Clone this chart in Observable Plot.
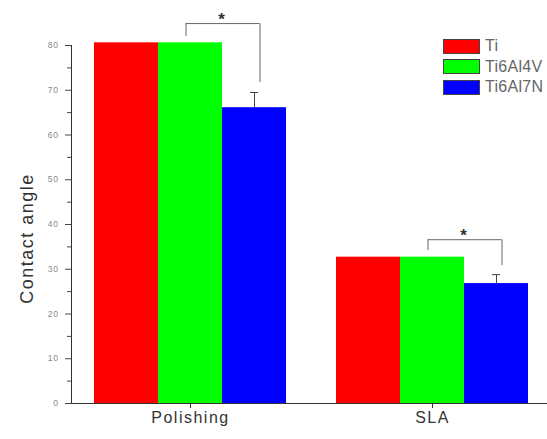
<!DOCTYPE html>
<html><head><meta charset="utf-8">
<script src="https://cdn.jsdelivr.net/npm/d3@7"></script>
<script src="https://cdn.jsdelivr.net/npm/@observablehq/plot@0.6"></script>
<style>
body{margin:0;background:#fff;font-family:"Liberation Sans",Arial,sans-serif}
#wrap{position:relative;width:547px;height:439px;overflow:hidden}
#legend{position:absolute;left:443px;top:36px;font-size:16px;color:#666;letter-spacing:0.3px}
.item{display:flex;align-items:center;height:20.5px;white-space:nowrap}
.sw{width:37px;height:15px;border:1px solid #444;margin-right:5px;box-sizing:border-box;flex:none}
svg g[aria-label="text"] text{letter-spacing:1.5px}
svg g[aria-label="y-axis tick label"] text{letter-spacing:0.6px}
</style></head><body><div id="wrap"><div id="legend"></div></div>
<script>
const groups = ["Polishing", "SLA"];
const materials = ["Ti", "Ti6Al4V", "Ti6Al7N"];
const colors = ["#ff0000", "#00ff00", "#0000ff"];
const polishingMeans = [80.6, 80.6, 66.1];
const slaMeans = [32.7, 32.7, 26.8];
const polishingErrors = [0, 0, 3.4];
const slaErrors = [0, 0, 2.0];
const bracketLevels = [84.9, 36.6];
const bracketLeftEnds = [82.0, 34.2];
const bracketRightEnds = [71.7, 30.8];
const sigLabel = "*";
const yTicks = [0, 10, 20, 30, 40, 50, 60, 70, 80];
const yMinorTicks = [5, 15, 25, 35, 45, 55, 65, 75];
const yLabel = "Contact angle";

const means = [polishingMeans, slaMeans];
const errors = [polishingErrors, slaErrors];
const bars = groups.flatMap((g, gi) => materials.map((m, mi) => ({group: g, material: m, value: means[gi][mi], err: errors[gi][mi]})));
const errs = bars.filter(d => d.err > 0);
const brackets = groups.map((g, gi) => ({group: g, level: bracketLevels[gi], leftEnd: bracketLeftEnds[gi], rightEnd: bracketRightEnds[gi]}));
const groupRows = groups.map(g => ({group: g}));

const chart = Plot.plot({
  width: 547, height: 439,
  marginLeft: 70, marginRight: 0, marginTop: 45, marginBottom: 36,
  style: {fontFamily: '"Liberation Sans", Arial, sans-serif', background: "transparent", overflow: "visible"},
  fx: {domain: groups, paddingInner: 0.037, paddingOuter: 0, axis: null, label: null},
  x: {domain: materials, paddingInner: 0, paddingOuter: 0.314, align: 0.568},
  y: {domain: [0, 80]},
  color: {domain: materials, range: colors},
  marks: [
    Plot.barY(bars, {fx: "group", x: "material", y: "value", fill: "material"}),
    Plot.ruleX(errs, {fx: "group", x: "material", y1: "value", y2: d => d.value + d.err, stroke: "#444"}),
    Plot.tickY(errs, {fx: "group", x: "material", y: d => d.value + d.err, insetLeft: 28, insetRight: 28, stroke: "#444"}),
    Plot.ruleX(brackets, {fx: "group", x: () => materials[1], y1: "leftEnd", y2: "level", dx: -4.5, stroke: "#666"}),
    Plot.ruleX(brackets, {fx: "group", x: () => materials[2], y1: "rightEnd", y2: "level", dx: 5.5, stroke: "#666"}),
    Plot.ruleY(brackets, {fx: "group", x1: () => materials[1], x2: () => materials[2], y: "level", insetLeft: 27.75, insetRight: 26.75, stroke: "#666"}),
    Plot.text(brackets, {fx: "group", x: () => materials[2], dx: -32.25, y: "level", text: () => sigLabel, lineAnchor: "bottom", dy: 1, fontSize: 17, fontWeight: "bold", fill: "#333"}),
    Plot.axisY({ticks: yTicks, tickSize: 6, tickFormat: () => "", stroke: "#444", label: null}),
    Plot.axisY({ticks: yMinorTicks, tickSize: 4, tickFormat: () => "", stroke: "#444", label: null}),
    Plot.axisY({ticks: yTicks, tickSize: 0, tickPadding: 13, fontSize: 8.5, fill: "#888", label: null}),
    Plot.axisX({ticks: [materials[1]], tickSize: 5, tickFormat: () => "", stroke: "#333", label: null}),
    Plot.text(groupRows, {fx: "group", x: () => materials[1], text: "group", frameAnchor: "bottom", dy: 19, fontSize: 16, fill: "#333"}),
    Plot.text([yLabel], {facet: "super", frameAnchor: "left", textAnchor: "middle", rotate: -90, dx: -44, dy: 14, fontSize: 18, fill: "#333"}),
    Plot.frame({anchor: "bottom", facet: "super", stroke: "#333"}),
    Plot.frame({anchor: "left", facet: "super", stroke: "#333"})
  ]
});
const wrap = document.getElementById("wrap");
wrap.insertBefore(chart, wrap.firstChild);

const legend = document.getElementById("legend");
materials.forEach((m, i) => {
  const item = document.createElement("div");
  item.className = "item";
  const sw = document.createElement("span");
  sw.className = "sw";
  sw.style.background = colors[i];
  item.appendChild(sw);
  item.appendChild(document.createTextNode(m));
  legend.appendChild(item);
});
</script></body></html>
